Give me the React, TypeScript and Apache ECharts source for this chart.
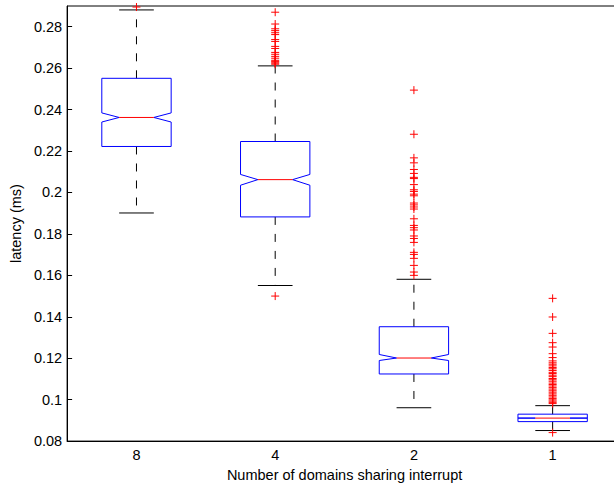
import React, { useEffect, useRef } from "react";
import * as echarts from "echarts";

const categories = ["8", "4", "2", "1"];
const lowWhisker = [0.1901, 0.1551, 0.0961, 0.0851];
const q1 = [0.2222, 0.1882, 0.1124, 0.0894];
const notchLow = [0.234, 0.2035, 0.1189, 0.0911];
const median = [0.2362, 0.2062, 0.1201, 0.0911];
const notchHigh = [0.2384, 0.2087, 0.1218, 0.0911];
const q3 = [0.2551, 0.2246, 0.1352, 0.093];
const highWhisker = [0.2881, 0.2611, 0.1581, 0.0971];

const outliers8 = [0.2895];
const outliers4 = [
  0.287, 0.2813, 0.279, 0.2781, 0.2771, 0.2762, 0.2738, 0.2729, 0.2705, 0.2695,
  0.2676, 0.2667, 0.2657, 0.2648, 0.2638, 0.2633, 0.2629, 0.2624, 0.2619, 0.15,
];
const outliers2 = [
  0.2494, 0.2281, 0.2167, 0.2143, 0.2111, 0.2092, 0.2073, 0.2067, 0.2038, 0.2013,
  0.2005, 0.1992, 0.1984, 0.1949, 0.194, 0.193, 0.192, 0.1873, 0.1841, 0.183,
  0.1819, 0.179, 0.1778, 0.1759, 0.1711, 0.1701, 0.1682, 0.1648, 0.1616, 0.16,
];
const outliers1 = [
  0.1489, 0.1399, 0.132, 0.1275, 0.1254, 0.1222, 0.1203, 0.1187, 0.1178, 0.1171,
  0.1163, 0.1155, 0.1149, 0.1141, 0.1132, 0.1126, 0.1118, 0.1111, 0.1102, 0.1096,
  0.1089, 0.108, 0.1073, 0.1066, 0.1058, 0.1051, 0.1043, 0.1036, 0.1028, 0.1021,
  0.1013, 0.1006, 0.0999, 0.0993, 0.0987, 0.0981, 0.0841,
];
const outlierGroups = [outliers8, outliers4, outliers2, outliers1];

export default function App() {
  const ref = useRef<HTMLDivElement>(null);
  useEffect(() => {
    if (!ref.current) return;
    const chart = echarts.init(ref.current, undefined, { renderer: "svg" });
    const boxData = categories.map((_, i) => [
      i,
      lowWhisker[i],
      q1[i],
      notchLow[i],
      median[i],
      notchHigh[i],
      q3[i],
      highWhisker[i],
    ]);
    const outlierData: number[][] = [];
    outlierGroups.forEach((g, i) => g.forEach((v) => outlierData.push([i, v])));

    const font = "'Liberation Sans', Arial, Helvetica, sans-serif";
    const fs = 14.5;

    chart.setOption({
      animation: false,
      backgroundColor: "#fff",
      grid: {
        left: 62,
        right: 18,
        top: 6,
        bottom: 39,
        show: true,
        borderColor: "#000",
        borderWidth: 1,
      },
      xAxis: {
        type: "category",
        data: categories,
        boundaryGap: true,
        name: "Number of domains sharing interrupt",
        nameLocation: "middle",
        nameGap: 23,
        nameTextStyle: { color: "#000", fontSize: fs, fontFamily: font },
        axisLine: { lineStyle: { color: "#000", width: 1 } },
        axisTick: { inside: true, alignWithLabel: true, length: 5, lineStyle: { color: "#000" } },
        axisLabel: { color: "#000", fontSize: fs, fontFamily: font, margin: 6 },
        splitLine: { show: false },
      },
      yAxis: {
        type: "value",
        min: 0.08,
        max: 0.29,
        interval: 0.02,
        name: "latency (ms)",
        nameLocation: "middle",
        nameGap: 40,
        nameTextStyle: { color: "#000", fontSize: fs, fontFamily: font },
        axisLine: { show: true, lineStyle: { color: "#000", width: 1 } },
        axisTick: { show: true, inside: true, length: 5, lineStyle: { color: "#000" } },
        axisLabel: {
          color: "#000",
          fontSize: fs,
          fontFamily: font,
          margin: 5,
          showMaxLabel: false,
          formatter: (v: number) => (Math.abs(v - 0.29) < 1e-9 ? "" : String(+v.toFixed(2))),
        },
        splitLine: { show: false },
      },
      series: [
        {
          type: "custom",
          data: boxData,
          encode: { x: 0, y: [1, 2, 3, 4, 5, 6, 7] },
          renderItem: (params: any, api: any) => {
            const idx = api.value(0);
            const band = api.size([1, 0])[0];
            const c = api.coord([idx, api.value(4)]);
            const cx = c[0];
            const y = (k: number) => api.coord([idx, api.value(k)])[1];
            const yLo = y(1), yQ1 = y(2), yNL = y(3), yMed = y(4), yNH = y(5), yQ3 = y(6), yHi = y(7);
            const hw = band * 0.25;
            const nw = band * 0.125;
            const L = cx - hw, R = cx + hw, IL = cx - nw, IR = cx + nw;
            const black = { stroke: "#000", lineWidth: 1, fill: "none" };
            const dashed = { stroke: "#000", lineWidth: 1, lineDash: [8, 9], fill: "none" };
            return {
              type: "group",
              children: [
                { type: "line", shape: { x1: cx, y1: yQ3, x2: cx, y2: yHi }, style: dashed },
                { type: "line", shape: { x1: cx, y1: yQ1, x2: cx, y2: yLo }, style: dashed },
                { type: "line", shape: { x1: IL, y1: yHi, x2: IR, y2: yHi }, style: black },
                { type: "line", shape: { x1: IL, y1: yLo, x2: IR, y2: yLo }, style: black },
                {
                  type: "polygon",
                  shape: {
                    points: [
                      [L, yQ1],
                      [L, yNL],
                      [IL, yMed],
                      [L, yNH],
                      [L, yQ3],
                      [R, yQ3],
                      [R, yNH],
                      [IR, yMed],
                      [R, yNL],
                      [R, yQ1],
                    ],
                  },
                  style: { stroke: "#0000ff", lineWidth: 1, fill: "none" },
                },
                {
                  type: "line",
                  shape: { x1: IL, y1: yMed, x2: IR, y2: yMed },
                  style: { stroke: "#ff0000", lineWidth: 1 },
                },
              ],
            };
          },
          z: 2,
        },
        {
          type: "custom",
          data: outlierData,
          encode: { x: 0, y: 1 },
          renderItem: (params: any, api: any) => {
            const p = api.coord([api.value(0), api.value(1)]);
            const s = 4;
            const st = { stroke: "#ff0000", lineWidth: 1 };
            return {
              type: "group",
              children: [
                { type: "line", shape: { x1: p[0] - s, y1: p[1], x2: p[0] + s, y2: p[1] }, style: st },
                { type: "line", shape: { x1: p[0], y1: p[1] - s, x2: p[0], y2: p[1] + s }, style: st },
              ],
            };
          },
          z: 3,
        },
      ],
    });
    return () => chart.dispose();
  }, []);
  return (
    <div
      style={{
        position: "fixed",
        left: 0,
        top: 0,
        width: 614,
        height: 487,
        overflow: "hidden",
        background: "#fff",
      }}
    >
      <div ref={ref} style={{ width: 640, height: 487 }} />
    </div>
  );
}
